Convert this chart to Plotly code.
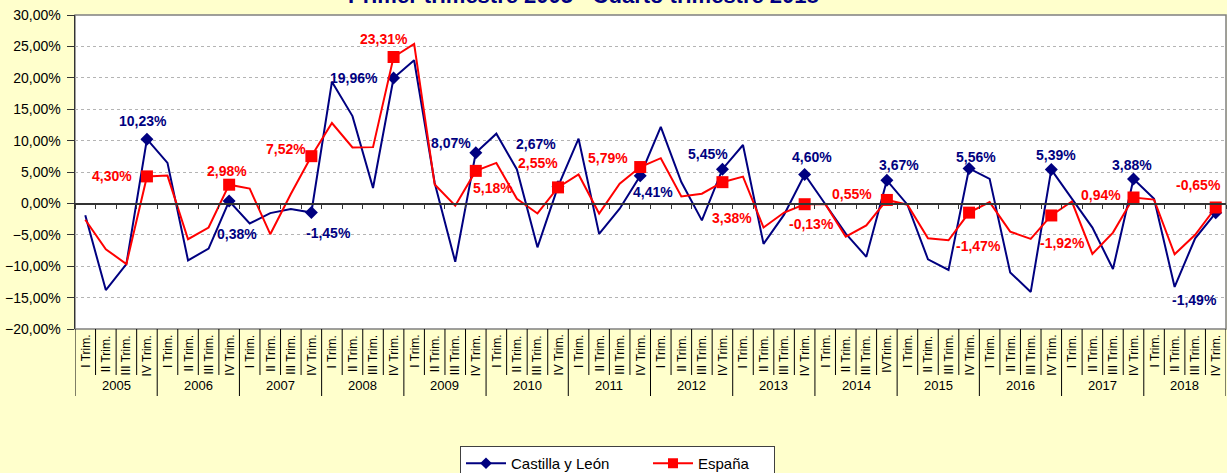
import plotly.graph_objects as go

# ---------------- data ----------------
years = [str(y) for y in range(2005, 2019)]
quarter_names = ["I Trim.", "II Trim.", "III Trim.", "IV Trim."]
quarter_labels = []
for y in years:
    for q in quarter_names:
        quarter_labels.append("IVTrim." if (y == "2014" and q == "IV Trim.") else q)

castilla = [
    -1.9, -13.8, -9.65, 10.23,
    6.45, -9.07, -7.2, 0.38,
    -3.2, -1.55, -0.9, -1.45,
    19.36, 13.9, 2.45, 19.96,
    22.8, 3.25, -9.3, 8.07,
    11.1, 5.4, -7.0, 2.67,
    10.3, -4.85, -0.85, 4.41,
    12.2, 3.4, -2.7, 5.45,
    9.3, -6.45, -1.8, 4.60,
    -0.1, -4.8, -8.5, 3.67,
    -0.2, -8.9, -10.6, 5.56,
    3.9, -11.0, -14.1, 5.39,
    0.75, -3.85, -10.45, 3.88,
    0.75, -13.3, -5.55, -1.49,
]
espana = [
    -2.6, -7.3, -9.65, 4.30,
    4.43, -5.7, -3.84, 2.98,
    2.35, -4.9, 1.5, 7.52,
    12.8, 8.9, 8.96, 23.31,
    25.4, 3.0, -0.37, 5.18,
    6.45, 0.75, -1.6, 2.55,
    4.6, -1.6, 3.15, 5.79,
    7.2, 1.1, 1.55, 3.38,
    4.27, -3.84, -1.45, -0.13,
    -0.1, -5.3, -3.5, 0.55,
    -0.2, -5.55, -5.87, -1.47,
    0.2, -4.5, -5.65, -1.92,
    0.3, -8.05, -4.65, 0.94,
    0.6, -8.1, -5.0, -0.65,
]

title_text = "Primer trimestre 2005 - Cuarto trimestre 2018"
series_names = ["Castilla y León", "España"]

# label offsets in pixels (dx, dy up) for the IV-quarter labels, per year
cyl_offsets = [(-4, 18), (8, -33), (17, -20), (-40, 0), (-25, 10), (-22, 43), (13, -16),
               (-14, 15), (7, 18), (12, 15), (7, 11), (5, 15), (-2, 14), (-21, -87)]
esp_offsets = [(-35, 0), (-2, 14), (-25, 7), (-10, 18), (17, -17), (-20, 24), (-32, 9),
               (10, -36), (7, -20), (-35, 6), (9, -33), (11, -28), (-33, 3), (-17, 22)]

NAVY = "#000080"
RED = "#FF0000"
BG = "#FFFFCC"
FONT = "Arial, Liberation Sans, sans-serif"

n = len(castilla)
xs = list(range(n))
iv_idx = [i for i in xs if i % 4 == 3]


def fmt(v):
    return f"{v:.2f}".replace(".", ",") + "%"


fig = go.Figure()

# Castilla y León
fig.add_trace(go.Scatter(x=xs, y=castilla, mode="lines", line=dict(color=NAVY, width=2),
                         showlegend=False, hoverinfo="skip", cliponaxis=False))
fig.add_trace(go.Scatter(x=iv_idx, y=[castilla[i] for i in iv_idx], mode="markers",
                         marker=dict(symbol="diamond", size=10, color=NAVY),
                         showlegend=False, hoverinfo="skip", cliponaxis=False))
# España
fig.add_trace(go.Scatter(x=xs, y=espana, mode="lines", line=dict(color=RED, width=2),
                         showlegend=False, hoverinfo="skip", cliponaxis=False))
fig.add_trace(go.Scatter(x=iv_idx, y=[espana[i] for i in iv_idx], mode="markers",
                         marker=dict(symbol="square", size=12, color=RED),
                         showlegend=False, hoverinfo="skip", cliponaxis=False))

# legend-only entries
fig.add_trace(go.Scatter(x=[None], y=[None], mode="lines+markers", name=series_names[0],
                         line=dict(color=NAVY, width=2), legendwidth=132,
                         marker=dict(symbol="diamond", size=9, color=NAVY)))
fig.add_trace(go.Scatter(x=[None], y=[None], mode="lines+markers", name=series_names[1],
                         line=dict(color=RED, width=2), legendwidth=71,
                         marker=dict(symbol="square", size=10, color=RED)))

annotations = []
for k, i in enumerate(iv_idx):
    dx, dy = cyl_offsets[k]
    annotations.append(dict(x=i, y=castilla[i], xref="x", yref="y", text=fmt(castilla[i]),
                            showarrow=False, xshift=dx, yshift=dy,
                            font=dict(family=FONT, size=14, color=NAVY, weight="bold")))
    dx, dy = esp_offsets[k]
    annotations.append(dict(x=i, y=espana[i], xref="x", yref="y", text=fmt(espana[i]),
                            showarrow=False, xshift=dx, yshift=dy,
                            font=dict(family=FONT, size=14, color=RED, weight="bold")))

# page geometry
W, H = 1227, 473
PLOT_L, PLOT_R = 75, 1226
PLOT_TOP, PLOT_BOT = 15, 329
PLOT_H = PLOT_BOT - PLOT_TOP


def py(page_y):
    """paper y for an absolute page pixel row"""
    return (PLOT_BOT - page_y) / PLOT_H


# quarter labels (rotated)
for i, lab in enumerate(quarter_labels):
    annotations.append(dict(x=i, y=py(333), xref="x", yref="paper", text=lab, textangle=-90,
                            showarrow=False, xanchor="center", yanchor="top",
                            font=dict(family=FONT, size=12, color="black")))
# year labels
for k, yr in enumerate(years):
    annotations.append(dict(x=4 * k + 1.5, y=py(385), xref="x", yref="paper", text=yr,
                            showarrow=False, xanchor="center", yanchor="middle",
                            font=dict(family=FONT, size=13, color="black")))

# title (partially cut at top as in reference)
annotations.append(dict(x=(583 - 75) / 1151, y=py(10), xref="paper", yref="paper",
                        text=title_text, showarrow=False, xanchor="center", yanchor="bottom",
                        font=dict(family=FONT, size=22, color=NAVY, weight="bold")))

shapes = []
# separators under the plot
for k in range(n + 1):
    long = (k % 4 == 0)
    shapes.append(dict(type="line", xref="x", yref="paper", x0=k - 0.5, x1=k - 0.5,
                       y0=0, y1=py(396 if long else 375),
                       line=dict(color="#000000", width=1)))
# plot border
shapes.append(dict(type="rect", xref="paper", yref="paper", x0=0, x1=1, y0=0, y1=1,
                   line=dict(color="#808080", width=1.5), layer="below"))

fig.update_layout(
    template="none",
    width=W, height=H,
    margin=dict(l=PLOT_L, r=W - PLOT_R, t=PLOT_TOP, b=H - PLOT_BOT, pad=0, autoexpand=False),
    paper_bgcolor=BG,
    plot_bgcolor="#FFFFFF",
    separators=",.",
    font=dict(family=FONT, size=15, color="black"),
    annotations=annotations,
    shapes=shapes,
    showlegend=True,
    legend=dict(orientation="h", xref="container", yref="container",
                x=460 / W, xanchor="left",
                y=(H - 446) / H, yanchor="top",
                itemwidth=40,
                bgcolor="#FFFFFF", bordercolor="#404040", borderwidth=1,
                font=dict(family=FONT, size=15, color="black")),
    xaxis=dict(range=[-0.5, n - 0.5], anchor="free", position=20 / 50, automargin=False,
               showgrid=False, zeroline=False, showline=True, linecolor="#333333", linewidth=1.5,
               ticks="outside", tickvals=[k - 0.5 for k in range(n + 1)], ticklen=4,
               tickcolor="#333333", showticklabels=False, fixedrange=True),
    yaxis=dict(range=[-20, 30], dtick=5, tickformat=".2f", ticksuffix="%", automargin=False,
               showgrid=True, gridcolor="#B4B4B4", griddash="dot", gridwidth=1,
               zeroline=False, showline=True, linecolor="#333333", linewidth=1.5,
               ticks="outside", ticklen=7, tickcolor="#333333", ticklabelstandoff=3,
               ticklabeloverflow="allow",
               tickfont=dict(family=FONT, size=14, color="black"), fixedrange=True),
)

fig.write_html(
    "out.html",
    config={"displayModeBar": False, "staticPlot": True},
    post_script="document.body.style.margin='0px';document.body.style.background='" + BG + "';",
)
